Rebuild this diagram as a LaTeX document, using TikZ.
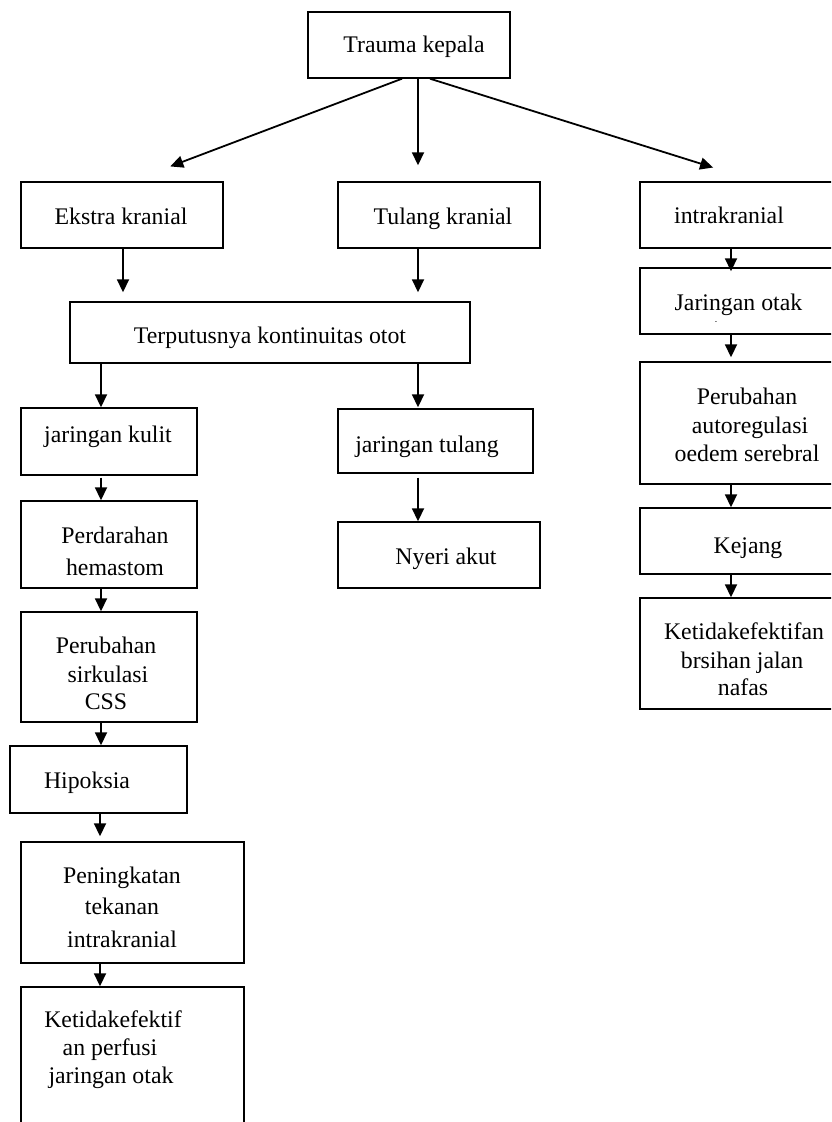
\documentclass[tikz,border=0pt]{standalone}
\usepackage{fontspec}
\setmainfont{Liberation Serif}
\usetikzlibrary{arrows.meta,calc}
\begin{document}
\begin{tikzpicture}[x=1pt,y=-1pt,
  box/.style={draw,line width=1.4pt,inner sep=0pt,rectangle},
  txt/.style={inner sep=0pt,anchor=base,font=\fontsize{23.8}{28}\selectfont},
  arr/.style={line width=1.8pt,-{Triangle[length=13pt,width=12pt]}}]
\useasboundingbox (0,0) rectangle (831,1122);
\clip (0,0) rectangle (831,1122);
% boxes
\node[box,minimum width=202pt,minimum height=66pt] (tk) at (409,45) {};
\node[box,minimum width=202pt,minimum height=66pt] (ek) at (122,215) {};
\node[box,minimum width=202pt,minimum height=66pt] (tl) at (439,215) {};
\node[box,minimum width=220pt,minimum height=66pt] (ik) at (750,215) {};
\node[box,minimum width=220pt,minimum height=66pt] (jo) at (750,301) {};
\node[box,minimum width=400pt,minimum height=61pt] (tp) at (270,332.5) {};
\node[box,minimum width=176pt,minimum height=67pt] (kl) at (109,441.5) {};
\node[box,minimum width=195pt,minimum height=64pt] (jt) at (435.5,441) {};
\node[box,minimum width=202pt,minimum height=66pt] (ny) at (439,555) {};
\node[box,minimum width=176pt,minimum height=87pt] (pd) at (109,544.5) {};
\node[box,minimum width=176pt,minimum height=110pt] (cs) at (109,667) {};
\node[box,minimum width=177pt,minimum height=67pt] (hp) at (98.5,779.5) {};
\node[box,minimum width=223pt,minimum height=121pt] (pn) at (132.5,902.5) {};
\node[box,minimum width=223pt,minimum height=153pt] (kt) at (132.5,1063.5) {};
\node[box,minimum width=220pt,minimum height=122pt] (au) at (750,423) {};
\node[box,minimum width=220pt,minimum height=66pt] (kj) at (750,541) {};
\node[box,minimum width=220pt,minimum height=111pt] (kr) at (750,653.5) {};
% texts
\node[txt] (t1) at (414,52) {Trauma kepala};
\node[txt] (t2) at (121,224) {Ekstra kranial};
\node[txt] (t3) at (443,224) {Tulang kranial};
\node[txt] (t4) at (729,223) {intrakranial};
\node[txt] (t5) at (738.5,310) {Jaringan otak};
\node[inner sep=0pt,font=\fontsize{7}{7}\selectfont] (t5d) at (716,323) {-};
\node[txt] (t6) at (270,343) {Terputusnya kontinuitas otot};
\node[txt] (t7) at (108,442) {jaringan kulit};
\node[txt] (t8) at (427,452) {jaringan tulang};
\node[txt] (t9) at (446,564) {Nyeri akut};
\node[txt] (t10a) at (115,543) {Perdarahan};
\node[txt] (t10b) at (115,575) {hemastom};
\node[txt] (t11a) at (106,653) {Perubahan};
\node[txt] (t11b) at (108,682) {sirkulasi};
\node[txt] (t11c) at (106,709) {CSS};
\node[txt] (t12) at (87,788) {Hipoksia};
\node[txt] (t13a) at (122,883) {Peningkatan};
\node[txt] (t13b) at (122,914) {tekanan};
\node[txt] (t13c) at (122,947) {intrakranial};
\node[txt] (t14a) at (113,1027) {Ketidakefektif};
\node[txt] (t14b) at (110,1055) {an perfusi};
\node[txt] (t14c) at (111,1083) {jaringan otak};
\node[txt] (t15a) at (747,404) {Perubahan};
\node[txt] (t15b) at (750,433) {autoregulasi};
\node[txt] (t15c) at (747,461) {oedem serebral};
\node[txt] (t16) at (748,553) {Kejang};
\node[txt] (t17a) at (744,639) {Ketidakefektifan};
\node[txt] (t17b) at (742,668) {brsihan jalan};
\node[txt] (t17c) at (743,695) {nafas};
% columns
\coordinate (cA) at (101,0);
\coordinate (cB) at (100,0);
\coordinate (cE) at (123,0);
\coordinate (cM) at (418,0);
\coordinate (cR) at (731,0);
\coordinate (cL1) at (402,0);
\coordinate (cL2) at (131,0);
\coordinate (cR1) at (430,0);
\coordinate (cR2) at (757,0);
% arrows
\draw[arr,shorten >=42pt] (tk.south -| cL1) -- (ek.north -| cL2);
\draw[arr,shorten >=16pt] (tk.south -| cM) -- (tl.north -| cM);
\draw[arr,shorten >=46pt] (tk.south -| cR1) -- (ik.north -| cR2);
\draw[arr,shorten >=9pt] (ek.south -| cE) -- (tp.north -| cE);
\draw[arr,shorten >=9pt] (tl.south -| cM) -- (tp.north -| cM);
\draw[arr,shorten >=-4pt] (ik.south -| cR) -- (jo.north -| cR);
\draw[arr,shorten >=4pt] (jo.south -| cR) -- (au.north -| cR);
\draw[arr] (tp.south -| cA) -- (kl.north -| cA);
\draw[arr,shorten >=1pt] (tp.south -| cM) -- (jt.north -| cM);
\draw[arr,shorten <=4pt] (jt.south -| cM) -- (ny.north -| cM);
\draw[arr,shorten <=2pt] (kl.south -| cA) -- (pd.north -| cA);
\draw[arr] (pd.south -| cA) -- (cs.north -| cA);
\draw[arr] (cs.south -| cA) -- (hp.north -| cA);
\draw[arr,shorten >=5pt] (hp.south -| cB) -- (pn.north -| cB);
\draw[arr] (pn.south -| cB) -- (kt.north -| cB);
\draw[arr] (au.south -| cR) -- (kj.north -| cR);
\draw[arr] (kj.south -| cR) -- (kr.north -| cR);
\end{tikzpicture}
\end{document}
